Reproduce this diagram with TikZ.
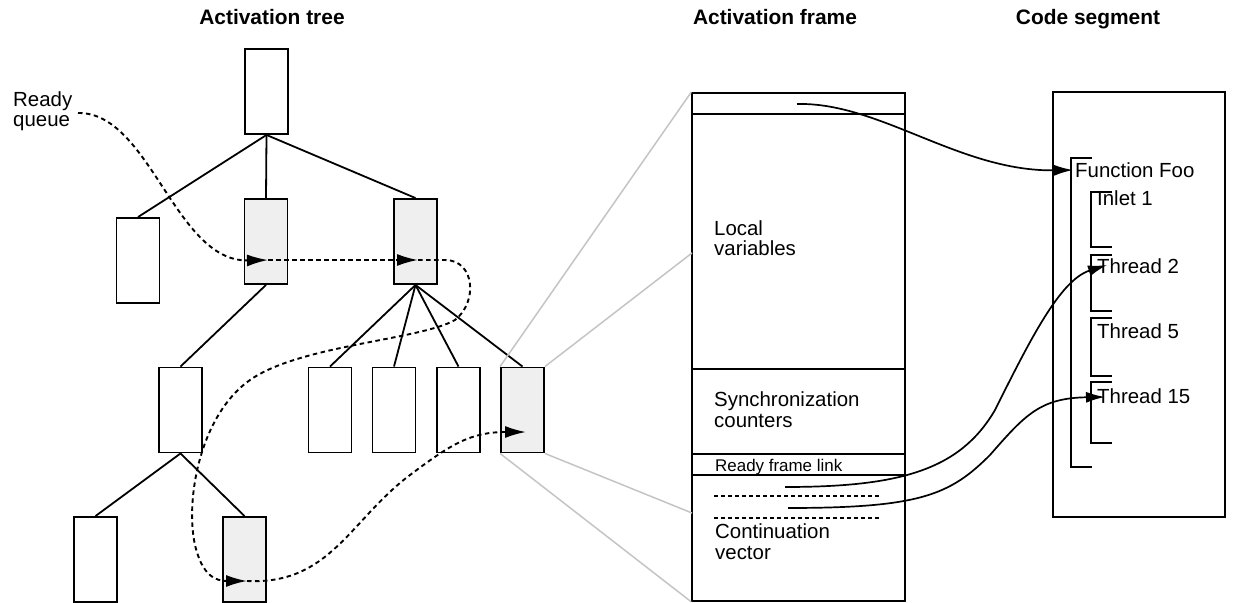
\documentclass[tikz,border=0pt]{standalone}
\usepackage{fontspec}
\setmainfont{Liberation Sans}
\usetikzlibrary{arrows.meta,calc}
\definecolor{boxgray}{HTML}{EFEFEF}
\definecolor{linkgray}{HTML}{C4C4C4}
\begin{document}
\begin{tikzpicture}[x=1bp,y=-1bp,
  tbox/.style={draw, line width=1.9bp, minimum width=43bp, minimum height=85bp, inner sep=0pt, fill=white},
  gbox/.style={tbox, fill=boxgray},
  treeedge/.style={line width=1.8bp},
  rq/.style={line width=1.9bp, dash pattern=on 4.5bp off 3.5bp},
  rqarrow/.style={rq, -{Latex[length=21bp,width=12bp]}},
  zoomline/.style={draw=linkgray, line width=1.5bp},
  frameline/.style={line width=1.6bp},
  cvdots/.style={line width=1.5bp, dash pattern=on 3.5bp off 3.5bp},
  codearrow/.style={line width=1.7bp, -{Latex[length=19bp,width=11bp]}},
  bracket/.style={line width=1.6bp},
  title/.style={font=\fontsize{21}{22}\selectfont\bfseries, inner sep=0pt, anchor=base},
  txt/.style={font=\fontsize{20.5}{21}\selectfont, inner sep=0pt, anchor=base west, align=left},
  smalltxt/.style={font=\fontsize{17}{18}\selectfont, inner sep=0pt, anchor=base west}
]
\useasboundingbox (0,0) rectangle (1239,603);

% titles
\node[title] (ttree) at (272,25) {Activation tree};
\node[title] (tframe) at (775,25) {Activation frame};
\node[title] (tcode) at (1088,25) {Code segment};

% tree
\node[tbox] (root) at (266.5,91.5) {};
\node[tbox] (a1) at (138,260.5) {};
\node[gbox] (a2) at (266,241.5) {};
\node[gbox] (a3) at (415.5,241.5) {};
\node[tbox] (b1) at (180.5,410) {};
\node[tbox] (b2) at (330,410) {};
\node[tbox] (b3) at (394,410) {};
\node[tbox] (b4) at (458.5,410) {};
\node[gbox] (b5) at (522.5,410) {};
\node[tbox] (c1) at (95.5,559.5) {};
\node[gbox] (c2) at (244.5,559.5) {};

\draw[treeedge] (root.south) -- (a1.north);
\draw[treeedge] (root.south) -- (a2.north);
\draw[treeedge] (root.south) -- (a3.north);
\draw[treeedge] (a2.south) -- (b1.north);
\draw[treeedge] (a3.south) -- (b2.north);
\draw[treeedge] (a3.south) -- (b3.north);
\draw[treeedge] (a3.south) -- (b4.north);
\draw[treeedge] (a3.south) -- (b5.north);
\draw[treeedge] (b1.south) -- (c1.north);
\draw[treeedge] (b1.south) -- (c2.north);

% activation frame
\node[draw, line width=1.6bp, minimum width=213bp, minimum height=508bp, inner sep=0pt] (frame) at (798.5,347) {};
\draw[frameline] (692,114) -- (905,114);
\draw[frameline] (692,369) -- (905,369);
\draw[frameline] (692,454) -- (905,454);
\draw[frameline] (692,475) -- (905,475);
\draw[cvdots] (714,496) -- (879,496);
\draw[cvdots] (714,518) -- (879,518);
\node[txt] (lv) at (714,256) {Local\\variables};
\node[txt] (sc) at (714,427) {Synchronization\\counters};
\node[smalltxt] (rfl) at (715,471) {Ready frame link};
\node[txt] (cv) at (715,559) {Continuation\\vector};

% zoom lines
\coordinate (fz1) at (692,253);
\coordinate (fz2) at (692,513);
\draw[zoomline] (b5.north west) -- (frame.north west);
\draw[zoomline] (b5.north east) -- (fz1);
\draw[zoomline] (b5.south east) -- (fz2);
\draw[zoomline] (b5.south west) -- (frame.south west);

% code segment
\node[draw, line width=1.6bp, minimum width=172bp, minimum height=425bp, inner sep=0pt] (code) at (1139,304.5) {};
\draw[bracket] (1092,158) -- (1071,158) -- (1071,467) -- (1092,467);
\draw[bracket] (1112,192) -- (1091,192) -- (1091,247) -- (1112,247);
\draw[bracket] (1112,255) -- (1091,255) -- (1091,311) -- (1112,311);
\draw[bracket] (1112,318) -- (1091,318) -- (1091,376) -- (1112,376);
\draw[bracket] (1112,382) -- (1091,382) -- (1091,443) -- (1112,443);
\node[txt] (foo) at (1075,178) {Function Foo};
\node[txt] (in1) at (1097,206) {Inlet 1};
\node[txt] (th2) at (1097,274) {Thread 2};
\node[txt] (th5) at (1097,339) {Thread 5};
\node[txt] (th15) at (1097,403) {Thread 15};

% code arrows
\coordinate (fooStart) at (797,104);
\coordinate (tipFoo) at (1073,170);
\coordinate (t2Start) at (785,487);
\coordinate (tipT2) at (1107,265);
\coordinate (t15Start) at (788,508);
\coordinate (tipT15) at (1105,397);
\draw[codearrow] (fooStart) .. controls (880,102) and (960,172) .. (tipFoo);
\draw[codearrow] (t2Start) .. controls (900,487) and (960,470) .. (995,410) .. controls (1030,340) and (1060,280) .. (tipT2);
\draw[codearrow] (t15Start) .. controls (920,508) and (950,495) .. (990,455) .. controls (1025,415) and (1040,398) .. (tipT15);

% ready queue
\node[txt] (rqlabel) at (13,127) {Ready\\queue};
\coordinate (rqStart) at (78,113);
\coordinate (tipA) at (268,260);
\coordinate (tipB) at (418,260);
\coordinate (tipC) at (247,581);
\coordinate (tipD) at (526,432);
\draw[rqarrow] (rqStart) .. controls (150,112) and (175,262) .. (tipA);
\draw[rqarrow] (tipA) -- (tipB);
\draw[rqarrow] (tipB) -- (445,260) .. controls (475,260) and (478,302) .. (455,320)
   .. controls (420,340) and (300,345) .. (250,380)
   .. controls (200,415) and (185,500) .. (195,545)
   .. controls (202,575) and (215,581) .. (tipC);
\draw[rqarrow] (tipC) .. controls (330,585) and (350,520) .. (410,475) .. controls (450,445) and (470,432) .. (tipD);
\end{tikzpicture}
\end{document}
